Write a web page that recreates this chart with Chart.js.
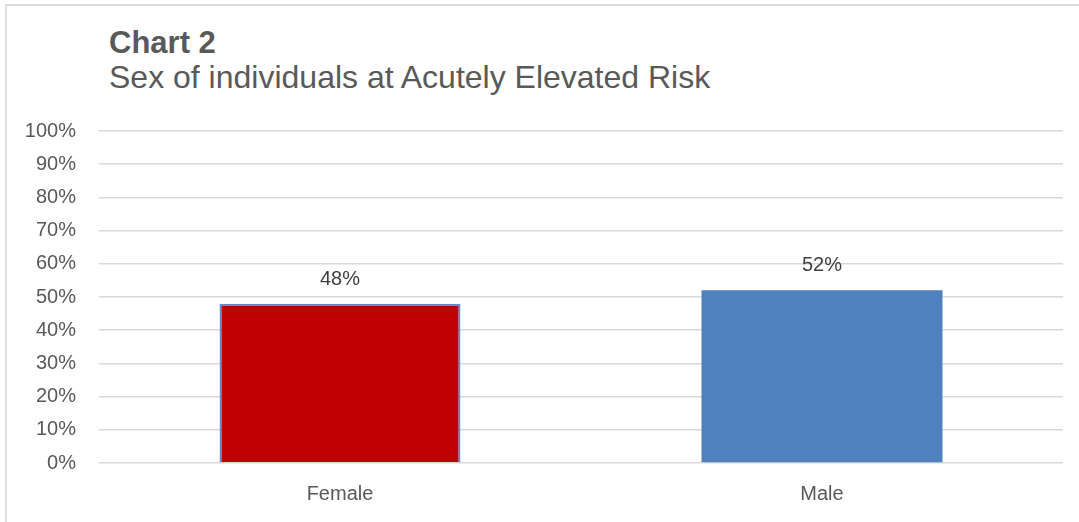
<!DOCTYPE html>
<html>
<head>
<meta charset="utf-8">
<script src="https://cdn.jsdelivr.net/npm/chart.js@4"></script>
<style>
  html, body { margin: 0; padding: 0; background: #fff; }
  #wrap { position: relative; width: 1079px; height: 522px; overflow: hidden; }
  #frame { position: absolute; left: 5px; top: 4px; right: -10px; bottom: -10px;
           border-top: 2px solid #dedede; border-left: 2px solid #dedede; }
  .t { position: absolute; left: 109px; color: #595959; font-family: "Liberation Sans", Arial, sans-serif; white-space: nowrap; }
  #t1 { top: 27px; font-size: 31px; line-height: 31px; font-weight: bold; }
  #t2 { top: 61px; font-size: 32px; line-height: 32px; }
  canvas { position: absolute; left: 0; top: 0; }
</style>
</head>
<body>
<div id="wrap">
  <div id="frame"></div>
  <div class="t" id="t1">Chart 2</div>
  <div class="t" id="t2">Sex of individuals at Acutely Elevated Risk</div>
  <canvas id="c" width="1079" height="522"></canvas>
</div>
<script>
const categories = ["Female", "Male"];
const values = [48, 52];
const barColors = ["#C00000", "#4F81BD"];
const barBorders = ["#5B8FD0", "#4F81BD"];
const yTicks = [0, 10, 20, 30, 40, 50, 60, 70, 80, 90, 100];

const dataLabels = {
  id: 'dataLabels',
  afterDatasetsDraw(chart) {
    const ctx = chart.ctx;
    const meta = chart.getDatasetMeta(0);
    ctx.save();
    ctx.font = '20px "Liberation Sans", Arial, sans-serif';
    ctx.fillStyle = '#404040';
    ctx.textAlign = 'center';
    ctx.textBaseline = 'alphabetic';
    meta.data.forEach((bar, i) => {
      ctx.fillText(values[i] + '%', bar.x, bar.y - 19);
    });
    ctx.restore();
  }
};

new Chart(document.getElementById('c'), {
  type: 'bar',
  data: {
    labels: categories,
    datasets: [{
      data: values,
      backgroundColor: barColors,
      borderColor: barBorders,
      borderWidth: [2, 0],
      categoryPercentage: 1,
      barPercentage: 0.5
    }]
  },
  options: {
    responsive: false,
    animation: false,
    layout: { padding: { top: 131, right: 16, left: 0, bottom: 0 } },
    plugins: { legend: { display: false }, tooltip: { enabled: false }, title: { display: false } },
    scales: {
      y: {
        min: 0, max: 100,
        afterBuildTicks(scale) { scale.ticks = yTicks.map(v => ({ value: v })); },
        afterFit(scale) { scale.width = 99; },
        ticks: {
          callback: v => v + '%',
          color: '#595959',
          padding: 23,
          font: { family: '"Liberation Sans", Arial, sans-serif', size: 20 }
        },
        grid: { color: '#d9d9d9', lineWidth: 1.5, drawTicks: false },
        border: { display: false }
      },
      x: {
        afterFit(scale) { scale.height = 59; },
        ticks: {
          color: '#595959',
          padding: 19,
          font: { family: '"Liberation Sans", Arial, sans-serif', size: 20 }
        },
        grid: { display: false, drawTicks: false },
        border: { display: false }
      }
    }
  },
  plugins: [dataLabels]
});
</script>
</body>
</html>
